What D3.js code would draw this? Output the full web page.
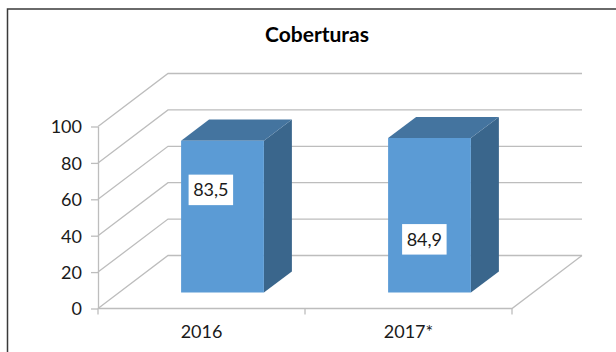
<!DOCTYPE html>
<html>
<head>
<meta charset="utf-8">
<script src="https://cdn.jsdelivr.net/npm/d3@7/dist/d3.min.js"></script>
<style>
  html, body { margin: 0; padding: 0; background: #fff; }
  svg { display: block; }
  text { font-family: Lato, "Open Sans", sans-serif; fill: #1a1a1a; }
</style>
</head>
<body>
<svg id="chart" width="616" height="352"></svg>
<script>
const categories = ["2016", "2017*"];
const values = [83.5, 84.9];
const valueLabels = ["83,5", "84,9"];
const yTicks = [0, 20, 40, 60, 80, 100];
const chartTitle = "Coberturas";

const svg = d3.select("#chart");

// Front plane of the 3D plot box
const x = d3.scaleBand().domain(categories).range([98, 512]);
const y = d3.scaleLinear().domain([0, 100]).range([308.5, 126.5]);

// Oblique projection: depth 0 is the front plane, depth 1 the back wall
const depth = { dx: 70, dy: -53 };
const project = (px, py, d) => [px + depth.dx * d, py + depth.dy * d];

// Bars sit between these depths and fill this share of their band
const barDepth = [0.3, 0.7];
const barShare = 0.4;

const colors = { front: "#5b9bd5", top: "#44749f", side: "#3a668c", grid: "#bdbdbd", frame: "#3a3a3a" };

// Outer frame, running off the right and bottom edges
svg.append("path")
  .attr("d", "M7.5,360V9H620")
  .attr("fill", "none")
  .attr("stroke", colors.frame)
  .attr("stroke-width", 1.5);

svg.append("text")
  .attr("x", 317)
  .attr("y", 42)
  .attr("text-anchor", "middle")
  .attr("font-size", 21)
  .attr("font-weight", 700)
  .style("fill", "#000")
  .text(chartTitle);

// Wall gridlines: diagonal along the side wall, then across the back wall
const grid = svg.append("g")
  .attr("fill", "none")
  .attr("stroke", colors.grid)
  .attr("stroke-width", 1.3);

grid.selectAll("path.wall")
  .data(yTicks)
  .join("path")
  .attr("class", "wall")
  .attr("d", v => d3.line()([
    project(x.range()[0], y(v), 0),
    project(x.range()[0], y(v), 1),
    project(x.range()[1], y(v), 1)
  ]));

// Front edge of the floor and its right-hand edge
grid.append("path").attr("d", d3.line()([
  project(x.range()[0], y(0), 0),
  project(x.range()[1], y(0), 0),
  project(x.range()[1], y(0), 1)
]));

// Value axis
const yAxis = svg.append("g")
  .attr("transform", `translate(${x.range()[0]},0)`)
  .call(d3.axisLeft(y).tickValues(yTicks).tickSize(7).tickPadding(9).tickSizeOuter(0));
yAxis.selectAll("path, line").attr("stroke", colors.grid).attr("stroke-width", 1.3);
yAxis.selectAll("text").attr("font-size", 18).style("font-family", "Lato, sans-serif");
yAxis.selectAll("text").attr("dy", "0.36em");

// Category axis: ticks mark the band edges, labels the band centres
const xAxis = svg.append("g")
  .attr("transform", `translate(0,${y(0)})`)
  .call(d3.axisBottom(x).tickSize(0).tickPadding(17));
xAxis.select("path").remove();
xAxis.selectAll("text").attr("font-size", 18).style("font-family", "Lato, sans-serif");

svg.append("g")
  .selectAll("line")
  .data([x.range()[0], x.range()[0] + x.bandwidth(), x.range()[1]])
  .join("line")
  .attr("x1", d => d).attr("x2", d => d)
  .attr("y1", y(0)).attr("y2", y(0) + 6)
  .attr("stroke", colors.grid)
  .attr("stroke-width", 1.3);

// Bars as three visible cuboid faces
const bars = svg.append("g")
  .selectAll("g")
  .data(categories.map((c, i) => ({ c, v: values[i] })))
  .join("g");

const poly = pts => d3.line()(pts) + "Z";

function faces(d) {
  const w = x.bandwidth() * barShare;
  const l = x(d.c) + (x.bandwidth() - w) / 2;
  const r = l + w;
  const [near, far] = barDepth;
  return {
    front: [project(l, y(d.v), near), project(r, y(d.v), near), project(r, y(0), near), project(l, y(0), near)],
    top: [project(l, y(d.v), near), project(l, y(d.v), far), project(r, y(d.v), far), project(r, y(d.v), near)],
    side: [project(r, y(d.v), near), project(r, y(d.v), far), project(r, y(0), far), project(r, y(0), near)]
  };
}

["side", "top", "front"].forEach(face => {
  bars.append("path")
    .attr("d", d => poly(faces(d)[face]))
    .attr("fill", colors[face]);
});

// Value labels on white boxes, offset from the bar's left edge and top
const labelOffsets = [{ dx: 7.5, dy: 34 }, { dx: 14, dy: 86 }];
const labelBox = { width: 44.5, height: 30.5 };

const labels = bars.append("g")
  .attr("transform", (d, i) => {
    const corner = faces(d).front[0];
    return `translate(${corner[0] + labelOffsets[i].dx},${corner[1] + labelOffsets[i].dy})`;
  });
labels.append("rect")
  .attr("width", labelBox.width)
  .attr("height", labelBox.height)
  .attr("fill", "#fff");
labels.append("text")
  .attr("x", labelBox.width / 2)
  .attr("y", labelBox.height / 2)
  .attr("dy", "0.36em")
  .attr("text-anchor", "middle")
  .attr("font-size", 18)
  .text((d, i) => valueLabels[i]);
</script>
</body>
</html>
